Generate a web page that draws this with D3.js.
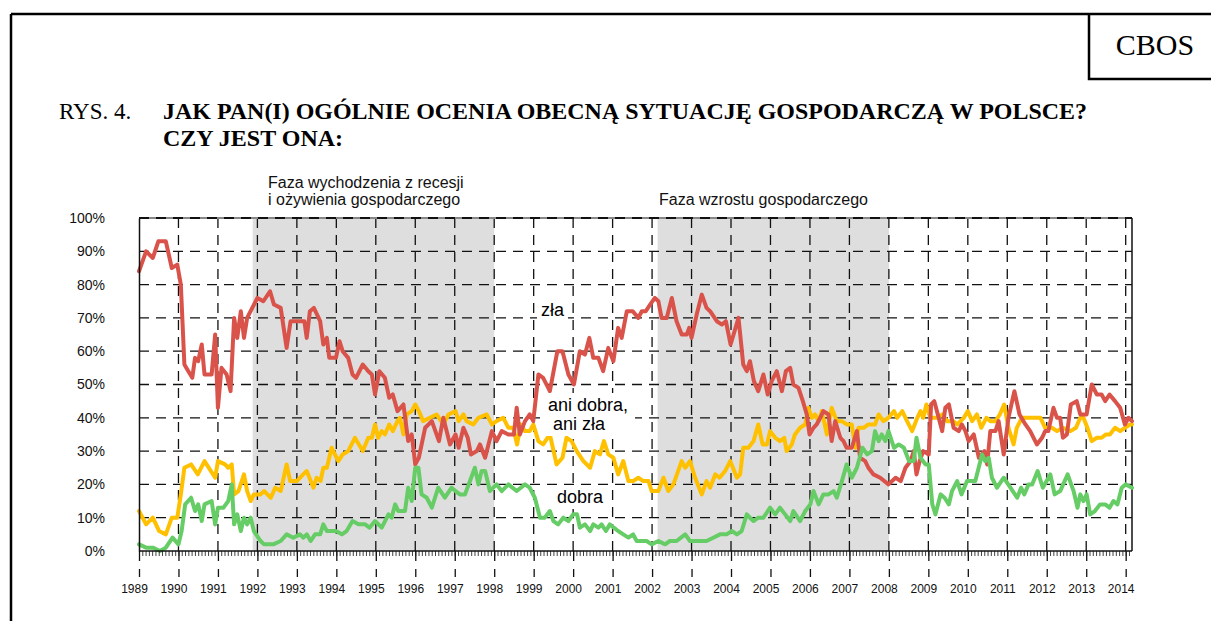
<!DOCTYPE html>
<html>
<head>
<meta charset="utf-8">
<script src="https://cdn.jsdelivr.net/npm/d3@7"></script>
<style>
  body { margin: 0; background: #fff; }
  svg { display: block; }
</style>
</head>
<body>
<svg id="chart" width="1211" height="621"></svg>
<script>
// Dane: [rok, procent]
const zla = [
  [1989.00,84],[1989.18,90],[1989.35,88],[1989.49,93],[1989.68,93],[1989.83,85],[1989.97,86],[1990.06,80],
  [1990.15,56],[1990.25,54],[1990.35,52],[1990.42,58],[1990.50,57],[1990.59,62],[1990.66,53],[1990.84,53],
  [1990.93,65],[1991.00,43],[1991.09,55],[1991.22,53],[1991.32,48],[1991.41,70],[1991.49,64],[1991.58,72],
  [1991.66,64],[1991.74,70],[1992.00,76],[1992.15,75],[1992.32,78],[1992.42,74],[1992.59,73],[1992.74,61],
  [1992.84,69],[1993.19,69],[1993.25,64],[1993.33,72],[1993.43,73],[1993.59,69],[1993.67,62],[1993.76,64],
  [1993.82,58],[1993.99,58],[1994.08,63],[1994.16,60],[1994.30,58],[1994.41,53],[1994.50,52],[1994.67,56],
  [1994.81,54],[1994.90,53],[1994.98,47],[1995.09,54],[1995.23,52],[1995.34,46],[1995.43,47],[1995.55,42],
  [1995.70,44],[1995.82,33],[1995.91,35],[1996.00,26],[1996.09,28],[1996.25,37],[1996.42,39],[1996.60,33],
  [1996.71,40],[1996.88,32],[1997.02,35],[1997.10,31],[1997.22,37],[1997.33,34],[1997.41,29],[1997.56,30],
  [1997.64,32],[1997.77,28],[1997.94,36],[1998.06,33],[1998.19,36],[1998.36,35],[1998.50,35],[1998.57,43],
  [1998.65,35],[1998.78,39],[1998.90,41],[1998.99,39],[1999.12,53],[1999.24,52],[1999.41,48],[1999.60,60],
  [1999.73,60],[1999.88,53],[2000.02,50],[2000.17,60],[2000.30,59],[2000.41,64],[2000.51,58],[2000.64,58],
  [2000.76,54],[2000.89,61],[2001.02,57],[2001.14,67],[2001.23,64],[2001.36,72],[2001.51,72],[2001.65,70],
  [2001.74,72],[2001.84,72],[2001.95,74],[2002.07,76],[2002.16,75],[2002.24,70],[2002.37,70],[2002.50,76],
  [2002.62,69],[2002.75,65],[2002.88,65],[2002.94,67],[2003.00,64],[2003.13,71],[2003.26,77],[2003.38,73],
  [2003.47,72],[2003.64,69],[2003.77,68],[2003.87,69],[2003.99,62],[2004.19,70],[2004.31,56],[2004.40,54],
  [2004.48,57],[2004.58,51],[2004.69,48],[2004.82,53],[2004.93,47],[2005.03,51],[2005.16,54],[2005.29,48],
  [2005.39,54],[2005.50,55],[2005.58,50],[2005.71,49],[2005.82,45],[2005.92,41],[2005.99,35],[2006.09,37],
  [2006.17,38],[2006.26,40],[2006.34,42],[2006.47,41],[2006.55,33],[2006.64,39],[2006.77,34],[2006.85,33],
  [2006.93,31],[2007.06,31],[2007.19,36],[2007.27,28],[2007.40,27],[2007.48,25],[2007.61,23],[2007.78,22],
  [2007.99,20],[2008.17,22],[2008.30,21],[2008.42,25],[2008.55,27],[2008.63,30],[2008.70,23],[2008.78,27],
  [2008.87,30],[2009.01,29],[2009.07,44],[2009.15,45],[2009.24,41],[2009.35,36],[2009.43,43],[2009.52,44],
  [2009.64,37],[2009.77,36],[2009.85,38],[2009.94,36],[2010.02,33],[2010.15,35],[2010.28,28],[2010.42,30],
  [2010.49,26],[2010.57,36],[2010.70,36],[2010.78,39],[2010.91,29],[2011.03,40],[2011.18,48],[2011.31,41],
  [2011.46,38],[2011.58,36],[2011.75,32],[2011.88,34],[2011.96,36],[2012.04,36],[2012.17,43],[2012.26,40],
  [2012.34,40],[2012.41,34],[2012.51,35],[2012.61,44],[2012.76,45],[2012.85,41],[2013.01,41],[2013.14,50],
  [2013.27,47],[2013.39,47],[2013.48,45],[2013.59,47],[2013.73,45],[2013.86,43],[2013.98,38],[2014.07,40],
  [2014.16,39]
];

const ani = [
  [1989.00,12],[1989.18,8],[1989.35,10],[1989.51,6],[1989.68,5],[1989.83,10],[1989.97,10],[1990.06,17],
  [1990.15,25],[1990.32,26],[1990.49,23],[1990.66,27],[1990.93,22],[1991.00,27],[1991.18,26],[1991.26,25],
  [1991.35,26],[1991.41,17],[1991.52,18],[1991.66,23],[1991.74,18],[1991.83,15],[1991.91,17],[1992.08,17],
  [1992.17,18],[1992.34,16],[1992.45,19],[1992.59,18],[1992.74,26],[1992.83,21],[1993.00,21],[1993.16,23],
  [1993.25,24],[1993.42,19],[1993.50,22],[1993.60,21],[1993.67,25],[1993.76,25],[1993.88,31],[1994.05,27],
  [1994.16,29],[1994.30,30],[1994.47,34],[1994.67,30],[1994.81,34],[1994.90,34],[1994.98,38],[1995.06,34],
  [1995.15,36],[1995.23,35],[1995.34,38],[1995.43,36],[1995.55,39],[1995.61,40],[1995.70,35],[1995.78,41],
  [1995.91,42],[1996.00,44],[1996.09,42],[1996.20,39],[1996.37,40],[1996.54,41],[1996.71,38],[1996.84,41],
  [1997.02,42],[1997.10,39],[1997.22,41],[1997.30,39],[1997.47,38],[1997.60,40],[1997.81,41],[1997.94,38],
  [1998.06,39],[1998.23,40],[1998.36,37],[1998.48,37],[1998.58,32],[1998.67,38],[1998.78,36],[1998.90,36],
  [1998.99,38],[1999.12,33],[1999.24,32],[1999.41,35],[1999.58,26],[1999.73,28],[1999.83,34],[1999.96,33],
  [2000.09,30],[2000.26,27],[2000.43,25],[2000.55,30],[2000.68,29],[2000.78,33],[2000.89,29],[2001.02,28],
  [2001.14,23],[2001.27,27],[2001.40,21],[2001.52,21],[2001.65,22],[2001.78,21],[2001.91,21],[2001.99,18],
  [2002.16,18],[2002.29,22],[2002.41,18],[2002.54,20],[2002.75,27],[2002.84,25],[2002.96,27],[2003.09,22],
  [2003.26,17],[2003.38,21],[2003.47,19],[2003.60,23],[2003.71,22],[2003.85,24],[2003.98,27],[2004.15,22],
  [2004.23,23],[2004.31,31],[2004.44,31],[2004.57,33],[2004.69,38],[2004.80,32],[2004.91,32],[2004.99,36],
  [2005.12,34],[2005.24,33],[2005.35,34],[2005.41,30],[2005.54,32],[2005.62,35],[2005.75,37],[2005.88,38],
  [2005.96,43],[2006.05,40],[2006.13,41],[2006.22,39],[2006.30,42],[2006.43,35],[2006.55,43],[2006.68,39],
  [2006.81,39],[2006.93,38],[2007.06,38],[2007.15,31],[2007.23,37],[2007.36,37],[2007.48,38],[2007.65,38],
  [2007.74,41],[2007.86,39],[2007.99,40],[2008.13,42],[2008.21,40],[2008.34,42],[2008.46,39],[2008.59,36],
  [2008.72,40],[2008.80,42],[2008.87,40],[2008.95,44],[2009.05,40],[2009.22,40],[2009.35,41],[2009.47,39],
  [2009.64,39],[2009.73,38],[2009.90,40],[2010.00,42],[2010.11,39],[2010.23,41],[2010.34,37],[2010.47,40],
  [2010.57,39],[2010.70,39],[2010.81,41],[2010.92,44],[2011.03,37],[2011.16,32],[2011.24,37],[2011.37,40],
  [2011.50,40],[2011.67,40],[2011.84,40],[2011.96,37],[2012.13,37],[2012.26,36],[2012.41,37],[2012.60,36],
  [2012.74,37],[2012.85,40],[2012.93,40],[2013.03,37],[2013.14,33],[2013.27,34],[2013.39,34],[2013.50,35],
  [2013.60,35],[2013.73,37],[2013.86,36],[2013.98,37],[2014.11,38],[2014.16,38]
];

const dobra = [
  [1989.00,2],[1989.18,1],[1989.35,1],[1989.53,0],[1989.68,1],[1989.85,4],[1990.00,2],[1990.08,6],
  [1990.17,14],[1990.32,16],[1990.42,12],[1990.50,14],[1990.59,9],[1990.66,14],[1990.84,15],[1990.93,8],
  [1991.00,13],[1991.14,13],[1991.26,15],[1991.35,20],[1991.41,8],[1991.49,11],[1991.58,6],[1991.66,10],
  [1991.74,8],[1991.83,10],[1991.91,6],[1992.08,3],[1992.17,2],[1992.40,2],[1992.59,3],[1992.74,5],
  [1992.91,4],[1993.08,5],[1993.16,4],[1993.25,5],[1993.35,3],[1993.46,5],[1993.59,5],[1993.67,8],
  [1993.76,6],[1993.84,6],[1993.99,6],[1994.14,5],[1994.26,6],[1994.41,9],[1994.56,8],[1994.73,8],
  [1994.84,7],[1994.98,9],[1995.15,7],[1995.32,11],[1995.40,10],[1995.49,14],[1995.57,12],[1995.74,12],
  [1995.82,19],[1995.91,15],[1996.00,25],[1996.08,25],[1996.16,17],[1996.29,16],[1996.42,13],[1996.58,19],
  [1996.75,16],[1996.92,19],[1997.02,18],[1997.13,17],[1997.26,17],[1997.51,25],[1997.60,20],[1997.68,24],
  [1997.77,24],[1997.89,18],[1998.06,20],[1998.19,18],[1998.36,20],[1998.57,18],[1998.78,20],[1998.90,19],
  [1999.03,16],[1999.16,10],[1999.28,10],[1999.41,12],[1999.50,9],[1999.62,8],[1999.75,10],[1999.88,9],
  [2000.00,11],[2000.10,11],[2000.17,7],[2000.30,8],[2000.43,6],[2000.51,8],[2000.64,7],[2000.72,8],
  [2000.83,6],[2000.93,8],[2001.03,7],[2001.14,6],[2001.27,5],[2001.40,4],[2001.52,5],[2001.61,3],
  [2001.74,3],[2001.86,3],[2001.99,2],[2002.16,3],[2002.33,2],[2002.45,3],[2002.62,3],[2002.84,5],
  [2002.96,3],[2003.13,3],[2003.38,3],[2003.55,4],[2003.72,5],[2003.89,5],[2004.02,6],[2004.15,5],
  [2004.27,6],[2004.40,11],[2004.48,10],[2004.57,9],[2004.69,10],[2004.82,10],[2004.99,13],[2005.12,11],
  [2005.24,13],[2005.37,11],[2005.50,9],[2005.58,12],[2005.75,9],[2005.88,12],[2006.01,14],[2006.09,18],
  [2006.22,14],[2006.34,17],[2006.47,17],[2006.60,18],[2006.68,16],[2006.81,21],[2006.93,26],[2007.06,22],
  [2007.19,25],[2007.33,31],[2007.45,29],[2007.57,30],[2007.65,36],[2007.74,33],[2007.82,35],[2007.91,33],
  [2007.99,36],[2008.13,31],[2008.25,32],[2008.38,31],[2008.51,27],[2008.63,27],[2008.70,34],[2008.80,28],
  [2008.93,26],[2009.01,26],[2009.10,14],[2009.18,11],[2009.31,17],[2009.41,16],[2009.52,14],[2009.60,18],
  [2009.73,21],[2009.84,17],[2009.98,21],[2010.19,21],[2010.36,29],[2010.44,27],[2010.53,28],[2010.61,22],
  [2010.74,19],[2010.91,22],[2011.08,19],[2011.25,16],[2011.35,19],[2011.43,17],[2011.54,20],[2011.63,20],
  [2011.77,24],[2011.90,19],[2012.09,23],[2012.20,17],[2012.34,18],[2012.53,23],[2012.68,18],[2012.78,13],
  [2012.85,17],[2012.93,15],[2013.01,17],[2013.10,11],[2013.22,12],[2013.35,14],[2013.48,14],[2013.59,13],
  [2013.69,15],[2013.79,14],[2013.90,19],[2014.00,20],[2014.16,19]
];

// Fazy koniunktury (szare tło)
const phases = [[1991.88, 1998.0], [2002.14, 2008.0]];
const years = d3.range(1989, 2015);
const yTicks = d3.range(0, 101, 10);
const xStart = 1989, xEnd = 2014.16;

const svg = d3.select('#chart');
const font = 'Arial, "Liberation Sans", sans-serif';
const serif = '"Times New Roman", "Liberation Serif", serif';

const x = d3.scaleLinear().domain([xStart, xEnd]).range([139, 1132]);
const y = d3.scaleLinear().domain([0, 100]).range([551, 218]);

// Ramka strony
svg.append('line').attr('x1', 11).attr('x2', 1211).attr('y1', 14).attr('y2', 14)
  .attr('stroke', '#000').attr('stroke-width', 2.5);
svg.append('line').attr('x1', 11).attr('x2', 11).attr('y1', 14).attr('y2', 621)
  .attr('stroke', '#000').attr('stroke-width', 2.5);
svg.append('path').attr('d', 'M1089,14V79H1211')
  .attr('fill', 'none').attr('stroke', '#000').attr('stroke-width', 2.5);
svg.append('text').attr('x', 1155).attr('y', 55).attr('text-anchor', 'middle')
  .style('font-family', serif).style('font-size', '30px').text('CBOS');

// Tytuł
svg.append('text').attr('x', 59).attr('y', 119)
  .style('font-family', serif).style('font-size', '23px').text('RYS. 4.');
svg.append('text').attr('x', 163).attr('y', 119)
  .style('font-family', serif).style('font-size', '24px').style('font-weight', 'bold')
  .attr('textLength', 924).attr('lengthAdjust', 'spacingAndGlyphs')
  .text('JAK PAN(I) OGÓLNIE OCENIA OBECNĄ SYTUACJĘ GOSPODARCZĄ W POLSCE?');
svg.append('text').attr('x', 163).attr('y', 146)
  .style('font-family', serif).style('font-size', '24px').style('font-weight', 'bold')
  .text('CZY JEST ONA:');

// Opisy faz
const ann = svg.append('g').style('font-family', font).style('font-size', '16px').attr('fill', '#111');
ann.append('text').attr('x', 268).attr('y', 188).text('Faza wychodzenia z recesji');
ann.append('text').attr('x', 268).attr('y', 205).text('i ożywienia gospodarczego');
ann.append('text').attr('x', 659).attr('y', 205).text('Faza wzrostu gospodarczego');

// Tło faz
svg.append('g').selectAll('rect').data(phases).enter().append('rect')
  .attr('x', d => x(d[0])).attr('width', d => x(d[1]) - x(d[0]))
  .attr('y', y(100)).attr('height', y(0) - y(100))
  .attr('fill', '#dedede');

// Siatka
const grid = svg.append('g').attr('stroke', '#111').attr('stroke-width', 1.3).attr('stroke-dasharray', '10,7');
grid.selectAll('.h').data(yTicks.filter(d => d > 0 && d < 100)).enter().append('line')
  .attr('x1', x(xStart)).attr('x2', x(xEnd)).attr('y1', d => y(d)).attr('y2', d => y(d));
grid.selectAll('.v').data(years.slice(1)).enter().append('line')
  .attr('x1', d => x(d)).attr('x2', d => x(d)).attr('y1', y(100)).attr('y2', y(0));

// Górna krawędź i prawa
svg.append('line').attr('x1', x(xStart)).attr('x2', x(xEnd)).attr('y1', y(100)).attr('y2', y(100))
  .attr('stroke', '#888').attr('stroke-width', 2);
svg.append('line').attr('x1', x(xStart)).attr('x2', x(xEnd)).attr('y1', y(100)).attr('y2', y(100))
  .attr('stroke', '#111').attr('stroke-width', 2).attr('stroke-dasharray', '10,7');
svg.append('line').attr('x1', x(xEnd)).attr('x2', x(xEnd)).attr('y1', y(100)).attr('y2', y(0))
  .attr('stroke', '#111').attr('stroke-width', 1.5);

// Linie serii
const line = d3.line().x(d => x(d[0])).y(d => y(d[1]));
const series = [
  { data: ani, color: '#ffc000' },
  { data: zla, color: '#d9534a' },
  { data: dobra, color: '#66cc66' }
];
svg.append('g').selectAll('path').data(series).enter().append('path')
  .attr('d', d => line(d.data))
  .attr('fill', 'none')
  .attr('stroke', d => d.color)
  .attr('stroke-width', 4)
  .attr('stroke-linejoin', 'round')
  .attr('stroke-linecap', 'round');

// Etykiety serii (białe tło)
const labels = svg.append('g').style('font-family', font).style('font-size', '18px').attr('fill', '#000');
labels.append('rect').attr('x', 537).attr('y', 300).attr('width', 31).attr('height', 20).attr('fill', '#fff');
labels.append('rect').attr('x', 545).attr('y', 393).attr('width', 90).attr('height', 43).attr('fill', '#fff');
labels.append('rect').attr('x', 553).attr('y', 488).attr('width', 55).attr('height', 21).attr('fill', '#fff');
labels.append('text').attr('x', 541).attr('y', 316).text('zła');
labels.append('text').attr('x', 548).attr('y', 411).text('ani dobra,');
labels.append('text').attr('x', 553).attr('y', 430).text('ani zła');
labels.append('text').attr('x', 557).attr('y', 503).text('dobra');

// Oś X: miesiące, lata
const months = d3.range(0, Math.floor((xEnd - xStart) * 12) + 1).map(i => xStart + i / 12);
svg.append('g').attr('transform', `translate(0,${y(0)})`)
  .call(d3.axisBottom(x).tickValues(months).tickSize(5).tickFormat(''))
  .call(g => g.select('.domain').remove())
  .selectAll('line').attr('stroke', '#111').attr('stroke-width', 0.8);

const xAxis = svg.append('g').attr('transform', `translate(0,${y(0)})`)
  .call(d3.axisBottom(x).tickValues(years).tickSize(26).tickPadding(7).tickFormat(d3.format('d')));
xAxis.select('.domain').attr('d', `M${x(xStart)},0H${x(xEnd)}`).attr('stroke', '#111').attr('stroke-width', 1.5);
xAxis.selectAll('.tick line').attr('stroke', '#111').attr('stroke-width', 1.3).attr('stroke-dasharray', '10,8');
xAxis.selectAll('.tick text').attr('dx', -5).style('font-family', font).style('font-size', '12px').attr('fill', '#111');

// Oś Y
const yAxis = svg.append('g').attr('transform', `translate(${x(xStart)},0)`)
  .call(d3.axisLeft(y).tickValues(yTicks).tickSize(0).tickPadding(34).tickFormat(d => d + '%'));
yAxis.select('.domain').attr('stroke', '#111').attr('stroke-width', 1.5);
yAxis.selectAll('.tick text').style('font-family', font).style('font-size', '14px').attr('fill', '#111');
</script>
</body>
</html>
